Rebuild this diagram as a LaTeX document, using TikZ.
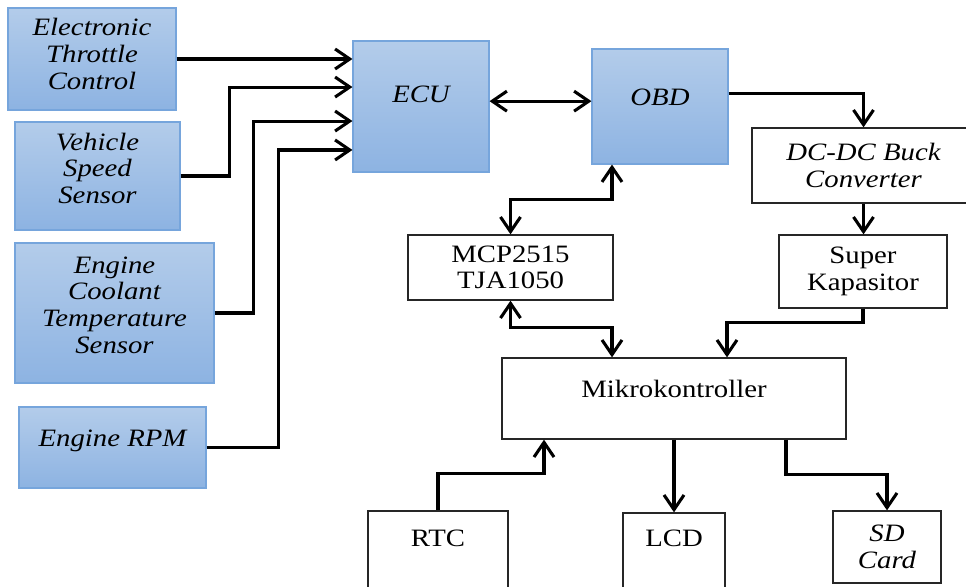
\documentclass[tikz,border=0pt]{standalone}
\usepackage{fontspec}
\setmainfont{Liberation Serif}[FakeStretch=1.15]
\usetikzlibrary{arrows.meta}
\definecolor{boxtop}{HTML}{B3CCEA}
\definecolor{boxbot}{HTML}{8DB3E2}
\definecolor{boxedge}{HTML}{76A5DC}

\begin{document}
\begin{tikzpicture}[x=0.75pt,y=-0.75pt,font=\fontsize{18.75}{20}\selectfont,
  inbox/.style={draw=boxedge,line width=0.8pt,top color=boxtop,bottom color=boxbot,align=center,font=\fontsize{18.75}{20}\selectfont\itshape},
  wbox/.style={draw=black!85,line width=1pt,fill=white,align=center},
  link/.style={line width=2.3pt,-{Straight Barb[length=11pt,width=15pt]}},
  dlink/.style={line width=2.3pt,{Straight Barb[length=11pt,width=15pt]}-{Straight Barb[length=11pt,width=15pt]}}]
\useasboundingbox (0,0) rectangle (966,586);
\node[inbox,minimum width=126pt,minimum height=76.5pt,text depth=8pt] (etc) at (92,59) {Electronic\\Throttle\\Control};
\node[inbox,minimum width=123.75pt,minimum height=81pt,text depth=12pt] (vss) at (97.5,176) {Vehicle\\Speed\\Sensor};
\node[inbox,minimum width=149.25pt,minimum height=105pt,text depth=12pt] (ects) at (114.5,313) {Engine\\Coolant\\Temperature\\Sensor};
\node[inbox,minimum width=140.25pt,minimum height=60.75pt,text depth=14pt] (rpm) at (112.5,447.5) {Engine RPM};
\node[inbox,minimum width=102pt,minimum height=98.25pt,text depth=18pt] (ecu) at (421,106.5) {ECU};
\node[inbox,minimum width=102pt,minimum height=86.25pt,text depth=13.5pt] (obd) at (660,106.5) {OBD};
\node[wbox,minimum width=167.25pt,minimum height=56.25pt,font=\fontsize{18.75}{20}\selectfont\itshape] (dcdc) at (863.5,165.5) {DC-DC Buck\\Converter};
\node[wbox,minimum width=126pt,minimum height=54.75pt] (supcap) at (863,271.5) {Super\\Kapasitor};
\node[wbox,minimum width=153.75pt,minimum height=48.75pt] (mcp) at (510.5,267.5) {MCP2515\\TJA1050};
\node[wbox,minimum width=258pt,minimum height=60.75pt,text depth=15pt] (mcu) at (674,398.5) {Mikrokontroller};
\node[wbox,minimum width=105pt,minimum height=66.75pt,text depth=25.5pt] (rtc) at (438,555.5) {RTC};
\node[wbox,minimum width=76.5pt,minimum height=65.25pt,text depth=27pt] (lcd) at (674,556.5) {LCD};
\node[wbox,minimum width=81pt,minimum height=54pt,font=\fontsize{18.75}{20}\selectfont\itshape] (sd) at (887,547) {SD\\Card};
\draw[link] (etc.east) -- (etc.east -| ecu.west);
\draw[link] (vss.east) -- ++(49,0) |- ([yshift=14.6pt]ecu.west);
\draw[link] (ects.east) -- ++(39,0) |- ([yshift=-10.9pt]ecu.west);
\draw[link] (rpm.east) -- ++(72,0) |- ([yshift=-32.6pt]ecu.west);
\draw[dlink] ([yshift=4pt]ecu.east) -- ([yshift=4pt]obd.west);
\draw[link] ([yshift=10pt]obd.east) -| (dcdc.north);
\draw[link] (dcdc.south) -- (dcdc.south |- supcap.north);
\draw[link] (supcap.south) -- ++(0,14) -| ([xshift=39.75pt]mcu.north);
\draw[dlink] ([xshift=-36pt]obd.south) -- ++(0,35) -| (mcp.north);
\draw[dlink] (mcp.south) -- ++(0,27) -| ([xshift=-46.5pt]mcu.north);
\draw[link] (rtc.north) -- ++(0,-37) -| ([xshift=-97.5pt]mcu.south);
\draw[link] (mcu.south) -- (lcd.north);
\draw[link] ([xshift=84pt]mcu.south) -- ++(0,35) -| (sd.north);
\end{tikzpicture}
\end{document}
